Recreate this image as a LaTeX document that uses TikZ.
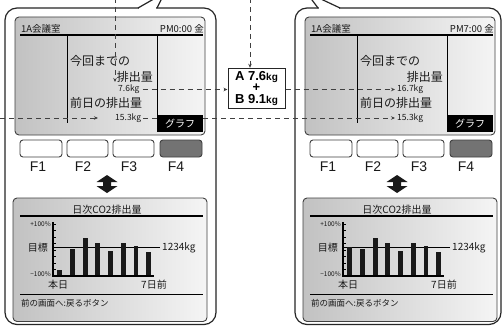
\documentclass[tikz,border=0pt]{standalone}
\usepackage{fontspec}
\setmainfont{Noto Sans CJK JP}
\newfontfamily\lat{Liberation Sans}
\usetikzlibrary{arrows.meta}

\tikzset{
  bubble/.style={draw=black!85, line width=1.2pt, fill=white, rounded corners=12pt},
  tailline/.style={draw=black!85, line width=1.2pt},
  screen/.style={draw=black!75, line width=0.9pt, rounded corners=4pt, left color=black!24, right color=black!4},
  key/.style={draw=black!75, line width=0.9pt, rounded corners=3pt, fill=white},
  keyon/.style={key, fill=black!55},
  klabel/.style={font=\lat\fontsize{14}{14}\selectfont, inner sep=0pt, text=black!90},
  txt/.style={inner sep=0pt, text=black!90},
  tbig/.style={txt, font=\fontsize{12}{12}\selectfont},
  tsmall/.style={txt, font=\fontsize{8.5}{8.5}\selectfont},
  tmid/.style={txt, font=\fontsize{10}{10}\selectfont},
  ttiny/.style={txt, font=\fontsize{6.5}{6.5}\selectfont},
  tback/.style={txt, font=\fontsize{8.5}{8.5}\selectfont},
  thead/.style={txt, font=\fontsize{9.5}{9.5}\selectfont},
  hdr/.style={line width=2pt, black},
  vline/.style={line width=1pt, black},
  graphbtn/.style={fill=black, minimum width=46pt, minimum height=17pt, inner sep=0pt, text=white, font=\fontsize{10}{10}\selectfont},
  dline/.style={draw=black!75, line width=1pt, dash pattern=on 5pt off 4pt},
  link/.style={dline, -{Stealth[length=4pt,width=3.5pt]}},
  barfill/.style={fill=black!90},
  sumbox/.style={draw=black!85, line width=1pt, fill=white, minimum width=57pt, minimum height=40pt, inner sep=0pt, align=center, font=\lat\bfseries\fontsize{13}{11.5}\selectfont},
}

\newcommand{\panel}[4]{%
\begin{scope}[xshift=#2pt]
  \draw[screen] (15,17) rectangle (205,135);
  \node[thead, anchor=west] (#1room) at (21,28.5) {1A会議室};
  \node[thead, anchor=east] (#1time) at (204,28.5) {#3 金};
  \draw[hdr] (20,35.5) -- (203,35.5);
  \draw[vline] (67,35.5) -- (67,123);
  \draw[vline] (157,35.5) -- (157,115);
  \draw[key] (20,140) rectangle (62,157);
  \draw[key] (67,140) rectangle (108,157);
  \draw[key] (113,140) rectangle (154,157);
  \draw[keyon] (160,140) rectangle (202,157);
  \node[klabel] (#1fa) at (38,166.5) {F1};
  \node[klabel] (#1fb) at (83,166.5) {F2};
  \node[klabel] (#1fc) at (129,166.5) {F3};
  \node[klabel] (#1fd) at (176,166.5) {F4};
  \fill[black!90] (107,175) -- (117.5,182) -- (111,182) -- (111,186) -- (117.5,186) -- (107,193)
        -- (96.5,186) -- (103,186) -- (103,182) -- (96.5,182) -- cycle;
  \draw[screen] (13,198) rectangle (207,321.5);
  \node[tmid] (#1title) at (107,209.5) {日次CO2排出量};
  \draw[hdr] (20,216) -- (203,216);
  \node[ttiny, anchor=east] (#1pmax) at (51,224) {+100\%};
  \node[tmid, anchor=east] (#1goal) at (48,248) {目標};
  \node[ttiny, anchor=east] (#1pmin) at (51,274) {−100\%};
  \draw[line width=0.8pt] (53,247) -- (160,247);
  \node[tmid, anchor=west] (#1kg) at (162,248) {1234kg};
  \foreach \bx/\by in {59.7/#4, 72.4/249, 85.1/238, 97.8/243, 110.5/251, 123.2/243, 135.9/246, 148.6/252}
    \fill[barfill] (\bx-2.4,\by) rectangle (\bx+2.4,276);
  \draw[line width=1.4pt] (53,222) -- (53,276) -- (154,276);
  \foreach \ty in {224,230.5,...,270}
    \draw[line width=0.6pt] (53,\ty) -- (56,\ty);
  \node[tmid] (#1today) at (58,285) {本日};
  \node[tmid] (#1week) at (154,285) {7日前};
  \draw[line width=1pt] (20,294) -- (203,294);
  \node[tback, anchor=west] (#1back) at (21,303.5) {前の画面へ:戻るボタン};
\end{scope}}

\begin{document}
\begin{tikzpicture}[x=1pt,y=-1pt]
\useasboundingbox (0,0) rectangle (502,326);
% speech bubbles
\draw[bubble] (5,8) rectangle (216,324.5);
\fill[white] (138.8,6) rectangle (156.3,10);
\draw[tailline] (138,8) -- (159,-4);
\draw[tailline] (157,8) -- (163,-4);
\draw[bubble] (295,8) rectangle (501,324.5);
\fill[white] (318.7,6) rectangle (339.3,10);
\draw[tailline] (318,8) -- (309,-4);
\draw[tailline] (340,8) -- (314.5,-4);

\panel{L}{0}{PM0:00}{270}
\panel{R}{290}{PM7:00}{247}

% left screen texts
\node[tbig, anchor=west] (Lnow) at (70,61) {今回までの};
\node[tbig, anchor=east] (Lem) at (153,77) {排出量};
\node[tsmall, anchor=west] (Lcur) at (118,89.5) {7.6kg};
\node[tbig, anchor=west] (Lyest) at (70,103) {前日の排出量};
\node[tsmall, anchor=west] (Lprev) at (115,118) {15.3kg};
% right screen texts
\node[tbig, anchor=west] (Rnow) at (360,61) {今回までの};
\node[tbig, anchor=east] (Rem) at (443,77) {排出量};
\node[tsmall, anchor=west] (Rcur) at (397,89.5) {16.7kg};
\node[tbig, anchor=west] (Ryest) at (360,103) {前日の排出量};
\node[tsmall, anchor=west] (Rprev) at (397,118) {15.3kg};

% sum box
\node[sumbox] (sum) at (256.5,88.3) {A 7.6{\fontsize{10}{10}\selectfont kg}\\+\\B 9.1{\fontsize{10}{10}\selectfont kg}};

% dashed connectors
\coordinate (topL) at (115,-2);
\coordinate (arrL) at (115,82);
\draw[link] (topL) -- (arrL);
\coordinate (topM) at (250,-2);
\draw[link] (topM) -- (topM |- sum.north);
\draw[link, shorten <=3pt] (Lcur.east) -- (Lcur.east -| sum.west);
\draw[link, shorten >=2pt] (sum.east |- Rcur.west) -- (Rcur.west);
\coordinate (edgeL) at (0,118);
\draw[link, shorten >=17pt] (edgeL) -- (Lprev.west);
\draw[dline, shorten <=2pt] (Lprev.east) -- (Lprev.east -| 157,0);
\draw[link, shorten >=2pt] (203,118) -- (Rprev.west);

% graph buttons on top of the lines
\node[graphbtn] (Lgraph) at (180,123.5) {グラフ};
\node[graphbtn] (Rgraph) at (470,123.5) {グラフ};
\end{tikzpicture}
\end{document}
